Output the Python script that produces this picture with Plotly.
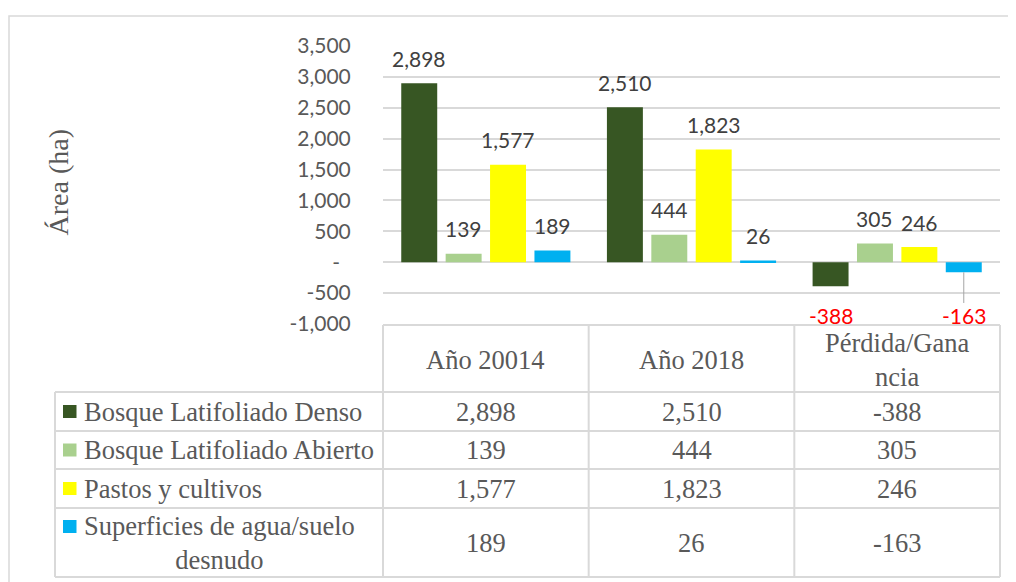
import plotly.graph_objects as go

# page pixels -> figure pixels (the page body has an 8px margin)
OFF = 8
FW, FH = 1016 - OFF, 582 - OFF

# ---------------- data ----------------
categories = ["Año 20014", "Año 2018", "Pérdida/Ganancia"]
header_labels = ["Año 20014", "Año 2018", "Pérdida/Gana<br>ncia"]
series_names = ["Bosque Latifoliado Denso", "Bosque Latifoliado Abierto",
                "Pastos y cultivos", "Superficies de agua/suelo<br>desnudo"]
bosque_denso = [2898, 2510, -388]
bosque_abierto = [139, 444, 305]
pastos_cultivos = [1577, 1823, 246]
agua_suelo = [189, 26, -163]
series_values = [bosque_denso, bosque_abierto, pastos_cultivos, agua_suelo]
series_colors = ["#375623", "#A9D08E", "#FFFF00", "#00B0F0"]
tick_values = [-1000, -500, 0, 500, 1000, 1500, 2000, 2500, 3000, 3500]
tick_labels = ["-1,000", "-500", "-\u00a0\u00a0", "500", "1,000", "1,500",
               "2,000", "2,500", "3,000", "3,500"]
y_title = "Área (ha)"

# ---------------- geometry / style (page pixels) ----------------
PLOT_L, PLOT_R, PLOT_T, PLOT_B = 383, 1000, 46, 324
Y_MIN, Y_MAX = -1000, 3500
BARGAP, BARGROUPGAP = 0.1365, 0.19
ROW_Y = [325, 392, 431, 469, 508, 577]   # table row boundaries
TABLE_L = 55
GRID = "#D9D9D9"
TXT = "#595959"
LBL = "#404040"
SERIF = "Liberation Serif"
SANS = "Lato"
TABLE_FS = 26.5


def px(x):
    return (x - OFF) / FW


def py(y):
    return 1 - (y - OFF) / FH


def ypix(v):
    return PLOT_B - (v - Y_MIN) / (Y_MAX - Y_MIN) * (PLOT_B - PLOT_T)


fig = go.Figure()
for name, vals, col in zip(series_names, series_values, series_colors):
    fig.add_trace(go.Bar(x=categories, y=vals, name=name.replace("<br>", " "),
                         marker=dict(color=col, line=dict(width=0)),
                         hoverinfo="x+y"))

annotations = []
shapes = []

n = len(series_values)
catw = (PLOT_R - PLOT_L) / len(categories)
slot = catw * (1 - BARGAP) / n

# data labels
for i, vals in enumerate(series_values):
    off = (i - (n - 1) / 2) * slot
    for j, v in enumerate(vals):
        if v >= 0:
            annotations.append(dict(x=categories[j], y=v, xref="x", yref="y",
                                    text=f"{v:,}", showarrow=False, xshift=off,
                                    yshift=25, xanchor="center", yanchor="middle",
                                    font=dict(family=SANS, size=21, color=LBL)))
        else:
            target = 316
            shift = target - ypix(v)
            if shift > 35:
                annotations.append(dict(x=categories[j], y=v, xref="x", yref="y",
                                        text=f"{v:,}", showarrow=True, arrowhead=0,
                                        arrowwidth=1, arrowcolor="#A6A6A6",
                                        ax=0, ay=shift, xshift=off, standoff=0,
                                        borderpad=0,
                                        font=dict(family=SANS, size=21, color="#FF0000")))
            else:
                annotations.append(dict(x=categories[j], y=v, xref="x", yref="y",
                                        text=f"{v:,}", showarrow=False, xshift=off,
                                        yshift=-shift, xanchor="center", yanchor="middle",
                                        font=dict(family=SANS, size=21, color="#FF0000")))

# y axis title
annotations.append(dict(x=px(57.5), y=py(183), xref="paper", yref="paper",
                        text=y_title, textangle=-90, showarrow=False,
                        xanchor="center", yanchor="middle",
                        font=dict(family=SERIF, size=28, color=TXT)))

# ---------------- data table ----------------
col_x = [PLOT_L + k * catw for k in range(len(categories) + 1)]
line = dict(color=GRID, width=2)
shapes.append(dict(type="line", xref="paper", yref="paper", x0=px(PLOT_L), x1=px(PLOT_R),
                   y0=py(ROW_Y[0]), y1=py(ROW_Y[0]), line=line))
for yy in ROW_Y[1:]:
    shapes.append(dict(type="line", xref="paper", yref="paper", x0=px(TABLE_L), x1=px(PLOT_R),
                       y0=py(yy), y1=py(yy), line=line))
for xx in col_x:
    shapes.append(dict(type="line", xref="paper", yref="paper", x0=px(xx), x1=px(xx),
                       y0=py(ROW_Y[0]), y1=py(ROW_Y[-1]), line=line))
shapes.append(dict(type="line", xref="paper", yref="paper", x0=px(TABLE_L), x1=px(TABLE_L),
                   y0=py(ROW_Y[1]), y1=py(ROW_Y[-1]), line=line))

hc = (ROW_Y[0] + ROW_Y[1]) / 2
for j, lab in enumerate(header_labels):
    annotations.append(dict(x=px((col_x[j] + col_x[j + 1]) / 2), y=py(hc + 1), xref="paper",
                            yref="paper", text=lab, showarrow=False, align="center",
                            xanchor="center", yanchor="middle",
                            font=dict(family=SERIF, size=TABLE_FS, color=TXT)))

for i, (name, vals, col) in enumerate(zip(series_names, series_values, series_colors)):
    top, bot = ROW_Y[i + 1], ROW_Y[i + 2]
    rc = (top + bot) / 2
    nlines = name.count("<br>") + 1
    first_line = rc - (nlines - 1) * 16
    shapes.append(dict(type="rect", xref="paper", yref="paper", x0=px(63), x1=px(76.5),
                       y0=py(first_line - 6.5), y1=py(first_line + 6.5),
                       fillcolor=col, line=dict(width=0)))
    annotations.append(dict(x=px(82), y=py(rc), xref="paper", yref="paper", text=name,
                            xanchor="left", yanchor="middle", align="center",
                            showarrow=False,
                            font=dict(family=SERIF, size=TABLE_FS, color=TXT)))
    for j, v in enumerate(vals):
        annotations.append(dict(x=px((col_x[j] + col_x[j + 1]) / 2), y=py(rc), xref="paper",
                                yref="paper", text=f"{v:,}", showarrow=False,
                                xanchor="center", yanchor="middle",
                                font=dict(family=SERIF, size=TABLE_FS, color=TXT)))

# outer chart border
shapes.append(dict(type="rect", xref="paper", yref="paper", x0=px(9), x1=px(1040),
                   y0=py(16), y1=py(620), line=dict(color=GRID, width=1.5), layer="below"))

fig.update_layout(
    width=FW, height=FH,
    autosize=False,
    margin=dict(l=0, r=0, t=0, b=0, autoexpand=False),
    paper_bgcolor="white", plot_bgcolor="white",
    barmode="group", bargap=BARGAP, bargroupgap=BARGROUPGAP,
    showlegend=False,
    xaxis=dict(domain=[px(PLOT_L), px(PLOT_R)], showticklabels=False, showgrid=False,
               zeroline=False, showline=False, ticks="", automargin=False),
    yaxis=dict(domain=[py(PLOT_B), py(PLOT_T)], range=[Y_MIN, Y_MAX],
               tickvals=tick_values, ticktext=tick_labels, automargin=False,
               showgrid=True, gridcolor=GRID, gridwidth=1.5,
               zeroline=True, zerolinecolor=GRID, zerolinewidth=1.5,
               showline=False, ticks="outside", ticklen=27, tickcolor="rgba(0,0,0,0)",
               tickfont=dict(family=SANS, size=21, color=TXT)),
    annotations=annotations,
    shapes=shapes,
)

fig.write_html("out.html")
